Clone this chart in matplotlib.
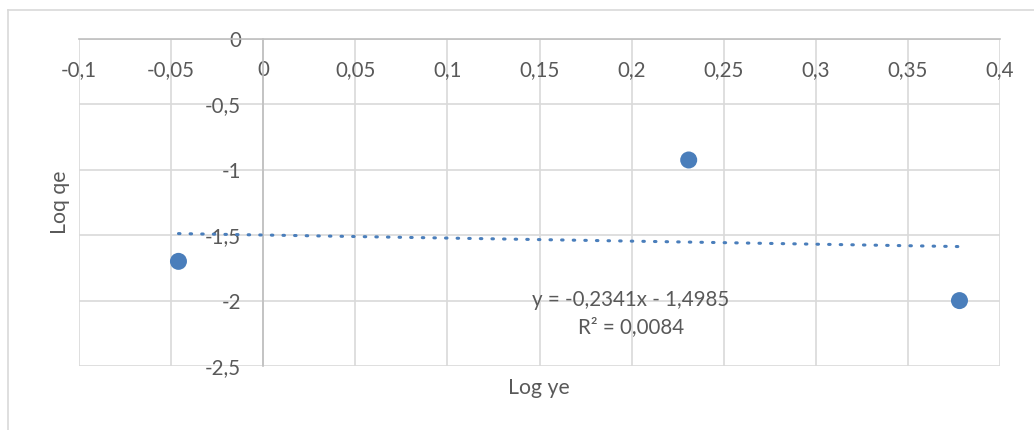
import matplotlib
matplotlib.use("Agg")
import matplotlib.pyplot as plt
from matplotlib.lines import Line2D
import numpy as np

# Data
log_ye = [-0.046, 0.231, 0.378]
log_qe = [-1.70, -0.925, -2.00]
trend_coef = [-0.2341, -1.4985]  # slope, intercept
r_squared = "0,0084"
x_ticks = [-0.1, -0.05, 0, 0.05, 0.1, 0.15, 0.2, 0.25, 0.3, 0.35, 0.4]
x_tick_labels = ["-0,1", "-0,05", "0", "0,05", "0,1", "0,15", "0,2", "0,25", "0,3", "0,35", "0,4"]
y_ticks = [0, -0.5, -1, -1.5, -2, -2.5]
y_tick_labels = ["0", "-0,5", "-1", "-1,5", "-2", "-2,5"]

plt.rcParams['font.family'] = ['Lato', 'DejaVu Sans']
TXT = '#595959'
GRID = '#D9D9D9'
BLUE = '#4A7EBB'
FS = 14.8

W, H = 1034, 430
fig = plt.figure(figsize=(W / 100, H / 100), dpi=100)

# outer chart border (top and left visible)
fig.add_artist(Line2D([8 / W, 8 / W], [0, 1 - 10 / H], transform=fig.transFigure, color=GRID, lw=1.2))
fig.add_artist(Line2D([8 / W, 1], [1 - 10 / H, 1 - 10 / H], transform=fig.transFigure, color=GRID, lw=1.2))

left, right, top, bottom = 79, 1000, 39, 366
ax = fig.add_axes([left / W, 1 - bottom / H, (right - left) / W, (bottom - top) / H])
ax.set_xlim(-0.1, 0.4)
ax.set_ylim(-2.5, 0)

ax.set_xticks(x_ticks)
ax.set_xticklabels(x_tick_labels)
ax.set_yticks(y_ticks)
ax.set_yticklabels(y_tick_labels)
ax.grid(True, color=GRID, lw=1.2)
ax.set_axisbelow(True)

for s in ['top', 'right']:
    ax.spines[s].set_visible(False)
ax.spines['bottom'].set_position(('data', 0))
ax.spines['left'].set_position(('data', 0))
for s in ['bottom', 'left']:
    ax.spines[s].set_color('#BFBFBF')
    ax.spines[s].set_linewidth(1.2)
ax.tick_params(axis='x', length=0, pad=15, labelsize=FS, labelcolor=TXT)
ax.tick_params(axis='y', length=0, pad=16, labelsize=FS, labelcolor=TXT)

# trendline
xt = np.linspace(min(log_ye), max(log_ye), 100)
ax.plot(xt, trend_coef[0] * xt + trend_coef[1], color=BLUE, lw=2.2,
        linestyle=(0, (0.5, 3.3)), dash_capstyle='round', zorder=3)

ax.scatter(log_ye, log_qe, s=150, color=BLUE, edgecolors='none', zorder=4)

eq = "y = -0,2341x - 1,4985\nR² = " + r_squared
ax.text(0.1995, -2.1, eq, ha='center', va='center', fontsize=FS, color=TXT,
        linespacing=1.4, zorder=5)

fig.text(539 / W, 1 - 388 / H, "Log ye", ha='center', va='center', fontsize=FS + 0.5, color=TXT)
fig.text(60 / W, 1 - 202 / H, "Loq qe", ha='center', va='center', rotation=90, fontsize=FS + 0.5, color=TXT)

fig.savefig("out.png", dpi=100)
